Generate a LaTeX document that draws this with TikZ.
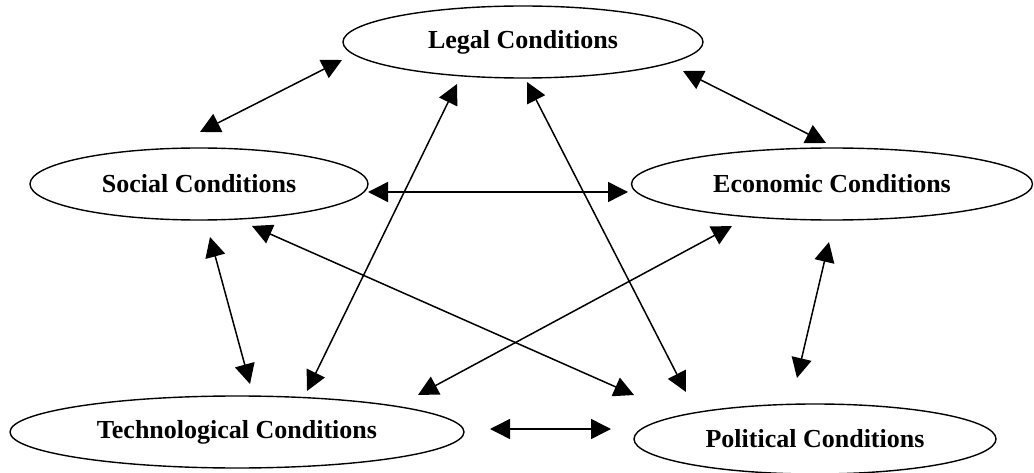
\documentclass[tikz,border=0pt]{standalone}
\usepackage{fontspec}
\setmainfont{Liberation Serif}
\usetikzlibrary{shapes.geometric,arrows.meta}
\begin{document}
\begin{tikzpicture} [x=1pt, y=-1pt]
    \tikzstyle{every node} = [align=center, font=\fontsize{26}{30}\selectfont\bfseries]
    \tikzstyle{cond} = [draw, ellipse, line width=1.4pt, inner sep=0pt]
    \tikzstyle{link} = [line width=1.5pt, {Triangle[length=20pt,width=20pt]}-{Triangle[length=20pt,width=20pt]}]
    \useasboundingbox (0,0) rectangle (1034,473);
    % the five conditions
    \node [cond, minimum width=360pt, minimum height=72pt] (legal) at (523,42) {Legal Conditions};
    \node [cond, minimum width=338pt, minimum height=72pt] (social) at (199,184) {Social Conditions};
    \node [cond, minimum width=401pt, minimum height=72pt] (economic) at (832,184) {Economic Conditions};
    \node [cond, minimum width=454pt, minimum height=72pt] (tech) at (237,432) {Technological Conditions};
    \node [cond, minimum width=362pt, minimum height=70pt] (political) at (815,439) {Political Conditions};
    % arrow ends
    \coordinate (social-a) at (200,132);
    \coordinate (legal-a) at (342,60);
    \coordinate (legal-b) at (683,71);
    \coordinate (economic-a) at (826,143);
    \coordinate (social-b) at (368,192);
    \coordinate (economic-b) at (628,192);
    \coordinate (legal-c) at (457,84);
    \coordinate (tech-a) at (307,391);
    \coordinate (legal-d) at (527,82);
    \coordinate (political-a) at (686,392);
    \coordinate (social-c) at (252,226);
    \coordinate (political-b) at (634,395);
    \coordinate (economic-c) at (732,226);
    \coordinate (tech-b) at (418,395);
    \coordinate (social-d) at (210,237);
    \coordinate (tech-c) at (250,384);
    \coordinate (economic-d) at (829,242);
    \coordinate (political-c) at (797,378);
    \coordinate (tech-d) at (490,429);
    \coordinate (political-d) at (611,429);
    % links
    \draw [link] (social-a) -- (legal-a);
    \draw [link] (legal-b) -- (economic-a);
    \draw [link] (social-b) -- (economic-b);
    \draw [link] (legal-c) -- (tech-a);
    \draw [link] (legal-d) -- (political-a);
    \draw [link] (social-c) -- (political-b);
    \draw [link] (economic-c) -- (tech-b);
    \draw [link] (social-d) -- (tech-c);
    \draw [link] (economic-d) -- (political-c);
    \draw [link] (tech-d) -- (political-d);
\end{tikzpicture}
\end{document}
